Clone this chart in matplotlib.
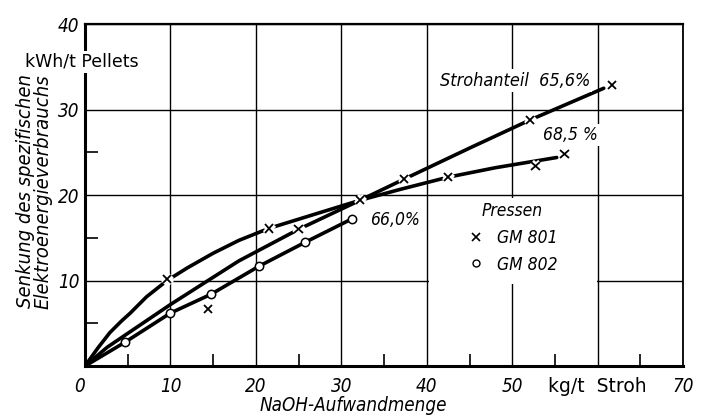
import matplotlib
matplotlib.use('Agg')
import matplotlib.pyplot as plt
import matplotlib.patheffects as pe
from matplotlib.lines import Line2D
from matplotlib.patches import Rectangle

# traced curves (kg NaOH / t Stroh vs. kWh / t Pellets)
curve_656_x = [0, 2.6, 10.0, 18.0, 25.0, 32.2, 37.2, 45.0, 52.1, 60.7]
curve_656_y = [0, 2.2, 7.2, 12.3, 16.0, 19.4, 21.8, 25.5, 28.8, 32.5]

curve_685_x = [0, 1.5, 2.9, 4.2, 5.3, 7.2, 9.6, 12.0, 15.0, 18.0, 21.5, 27.0, 32.2, 37.0, 42.5, 48.0, 55.2]
curve_685_y = [0, 2.1, 3.9, 5.2, 6.2, 8.1, 10.0, 11.5, 13.2, 14.7, 16.1, 17.8, 19.4, 20.7, 22.1, 23.2, 24.4]

# GM 802 measurements (66,0 %), curve drawn through them
gm802_x = [0, 4.7, 10.0, 14.75, 20.4, 25.8, 31.2]
gm802_y = [0, 2.8, 6.2, 8.4, 11.7, 14.5, 17.2]

# GM 801 measurements
gm801_x = [9.6, 14.4, 21.5, 25.0, 32.2, 37.3, 42.5, 52.1, 52.7, 56.1, 61.7]
gm801_y = [10.2, 6.7, 16.1, 16.0, 19.4, 21.9, 22.1, 28.8, 23.4, 24.8, 32.9]

x_ticks = [0, 10, 20, 30, 40, 50, 60, 70]
x_ticklabels = ['0', '10', '20', '30', '40', '50', 'kg/t  Stroh', '70']
y_ticks = [0, 10, 20, 30, 40]
y_ticklabels = ['', '10', '20', '30', '40']

ITAL = dict(style='italic', stretch='condensed')


def main():
    plt.rcParams['font.family'] = ['DejaVu Sans']
    fig = plt.figure(figsize=(7.08, 4.16), dpi=100)
    ax = fig.add_axes([0.120, 0.120, 0.845, 0.822])

    ax.set_xlim(0, 70)
    ax.set_ylim(0, 40)
    ax.set_axisbelow(True)
    ax.grid(True, which='major', color='black', linewidth=1.0)

    ax.set_xticks(x_ticks)
    ax.set_xticklabels(x_ticklabels)
    ax.set_yticks(y_ticks)
    ax.set_yticklabels(y_ticklabels)
    ax.set_xticks([5, 15, 25, 35, 45, 55, 65], minor=True)
    ax.set_yticks([5, 15, 25, 35], minor=True)
    ax.tick_params(which='major', length=0, labelsize=13.5)
    ax.tick_params(axis='x', which='major', pad=8)
    ax.tick_params(axis='y', which='major', pad=4)
    ax.tick_params(which='minor', direction='in', length=9, width=1.2)
    for lab in ax.get_xticklabels() + ax.get_yticklabels():
        if lab.get_text().startswith('kg'):
            lab.set_fontsize(13.5)
        else:
            lab.set_style('italic')
            lab.set_stretch('condensed')
    ax.get_xticklabels()[0].set_ha('right')

    for side, lw in [('left', 2.2), ('bottom', 2.2), ('top', 1.6), ('right', 1.3)]:
        ax.spines[side].set_linewidth(lw)

    # clear area behind the legend, grid is interrupted there in the original
    ax.add_patch(Rectangle((40.2, 9.6), 19.7, 10.1, facecolor='white',
                           edgecolor='none', zorder=1))

    # curves
    for cx, cy in [(curve_656_x, curve_656_y), (curve_685_x, curve_685_y),
                   (gm802_x, gm802_y)]:
        ax.plot(cx, cy, color='black', lw=2.6, zorder=3, solid_capstyle='round',
                solid_joinstyle='round')

    # measured points
    halo = [pe.withStroke(linewidth=5, foreground='white')]
    ax.plot(gm801_x, gm801_y, ls='none', marker='x', ms=6, mew=1.3,
            color='black', zorder=4, path_effects=halo)
    ax.plot(gm802_x[1:], gm802_y[1:], ls='none', marker='o', ms=6, mew=1.1,
            mfc='white', mec='black', zorder=4)

    box = dict(facecolor='white', edgecolor='none', pad=1.5)
    ax.text(50.3, 33.4, 'Strohanteil  65,6%', ha='center', va='center',
            fontsize=13, bbox=box, zorder=5, **ITAL)
    ax.text(56.8, 27.0, '68,5 %', ha='center', va='center',
            fontsize=12.5, bbox=box, zorder=5, **ITAL)
    ax.text(36.3, 17.1, '66,0%', ha='center', va='center',
            fontsize=12.5, bbox=box, zorder=5, **ITAL)
    ax.text(-7.0, 35.6, 'kWh/t Pellets', ha='left', va='center',
            fontsize=12.5, bbox=box, zorder=5, clip_on=False)

    handles = [Line2D([], [], ls='none', marker='x', ms=6, mew=1.2, color='black'),
               Line2D([], [], ls='none', marker='o', ms=5, mew=1.0,
                      mfc='white', mec='black')]
    leg = ax.legend(handles, ['GM 801', 'GM 802'], title='Pressen',
                    loc='center', bbox_to_anchor=(50.0, 15.0),
                    bbox_transform=ax.transData, frameon=False,
                    prop=dict(size=12.5, **ITAL),
                    title_fontproperties=dict(size=12.5, **ITAL),
                    handlelength=1.0, handletextpad=0.7, labelspacing=0.5,
                    borderpad=0.5)
    leg.set_zorder(5)

    ax.set_xlabel('NaOH-Aufwandmenge', fontsize=13.5, **ITAL)
    ax.xaxis.set_label_coords(0.448, -0.088)
    ax.set_ylabel('Senkung des spezifischen\nElektroenergieverbrauchs',
                  fontsize=14.5, linespacing=0.9, ha='right', va='center',
                  multialignment='right', **ITAL)
    ax.yaxis.set_label_coords(-0.085, 0.854)

    fig.savefig('out.png', dpi=100)


if __name__ == '__main__':
    main()
